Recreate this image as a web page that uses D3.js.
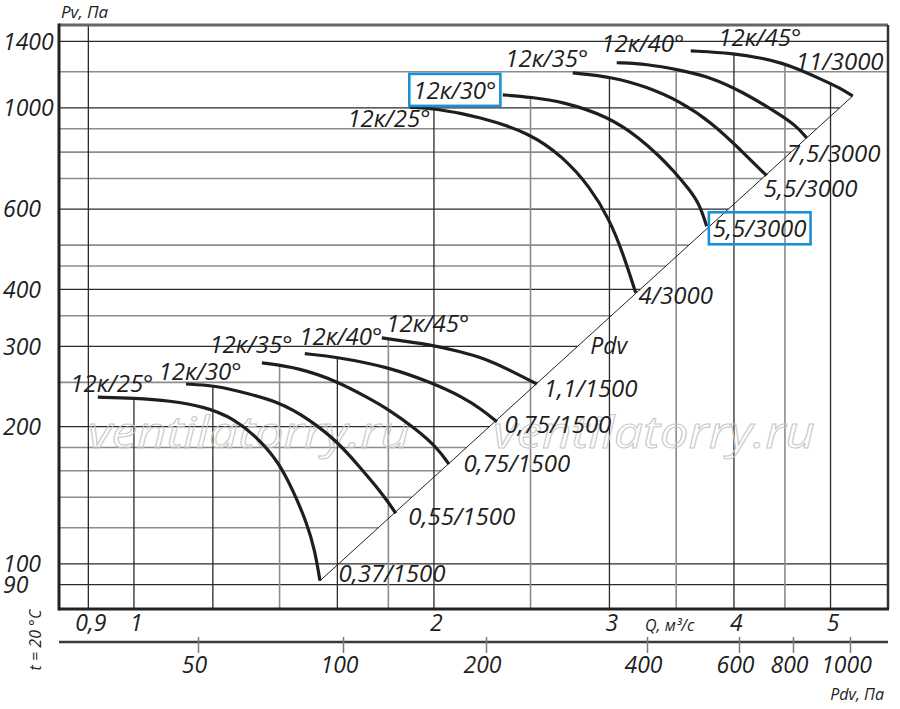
<!DOCTYPE html>
<html>
<head>
<meta charset="utf-8">
<script src="https://cdn.jsdelivr.net/npm/d3@7"></script>
<style>
  body { margin: 0; background: #fff; }
  svg { display: block; }
  text { font-family: "Open Sans", "Noto Sans", sans-serif; font-style: italic; fill: #1e1e1e; }
</style>
</head>
<body>
<div id="chart"></div>
<script>
// grid lines and tick values
var gridQ = [0.9, 1, 1.2, 1.4, 1.6, 1.8, 2, 2.5, 3, 3.5, 4, 4.5, 5];
var darkQ = [0.9, 1, 1.2, 1.6, 2, 3, 4, 5];
var gridPv = [90, 100, 120, 140, 160, 180, 200, 250, 300, 350, 400, 450, 500, 600, 700, 800, 900, 1000, 1200, 1400];
var tickPv = [90, 100, 200, 300, 400, 600, 1000, 1400];
var tickQ = [0.9, 1, 2, 3, 4, 5];
var tickPdv = [50, 100, 200, 400, 600, 800, 1000];

// Pdv line ends (Q, Pv)
var pdvQ = [1.537, 5.263];
var pdvPv = [91.8, 1062];

var angles = ['12к/25°', '12к/30°', '12к/35°', '12к/40°', '12к/45°'];
var motors3000 = ['4/3000', '5,5/3000', '5,5/3000', '7,5/3000', '11/3000'];
var motors1500 = ['0,37/1500', '0,55/1500', '0,75/1500', '0,75/1500', '1,1/1500'];

// [Q m3/s, Pv Pa], 3000 rpm
var curves3000 = [
    [[1.892, 1003], [2.000, 998], [2.223, 957], [2.496, 881], [2.693, 782], [2.867, 672], [3.002, 568], [3.094, 481], [3.188, 393]],
    [[2.345, 1068], [2.502, 1056], [2.693, 1032], [2.995, 957], [3.218, 858], [3.370, 782], [3.472, 731], [3.612, 661], [3.696, 613], [3.756, 550]],
    [[2.756, 1193], [3.023, 1169], [3.270, 1112], [3.528, 1035], [3.808, 925], [4.054, 812], [4.314, 710]],
    [[3.051, 1256], [3.270, 1249], [3.528, 1211], [3.782, 1170], [4.082, 1084], [4.405, 980], [4.624, 913], [4.732, 859]],
    [[3.620, 1334], [3.990, 1318], [4.275, 1285], [4.477, 1252], [4.624, 1220], [4.911, 1152], [5.107, 1106], [5.263, 1062]]
];
// 1500 rpm
var curves1500 = [
    [[0.920, 232], [1.000, 231], [1.087, 228], [1.178, 221], [1.257, 209], [1.338, 187], [1.398, 166.5], [1.444, 145], [1.491, 123], [1.519, 107], [1.537, 91.8]],
    [[1.128, 248], [1.200, 246], [1.257, 241], [1.398, 227], [1.501, 207], [1.602, 185], [1.685, 163], [1.752, 147.5], [1.802, 136], [1.831, 129]],
    [[1.344, 276], [1.467, 269], [1.602, 251], [1.713, 232], [1.802, 218], [1.922, 197], [2.014, 180], [2.070, 165.5]],
    [[1.484, 289], [1.602, 284], [1.802, 270], [1.995, 249], [2.138, 232], [2.234, 218], [2.313, 205]],
    [[1.773, 313], [1.995, 302], [2.123, 292], [2.239, 283], [2.383, 266], [2.536, 248]]
];

var W = 900, H = 709;
var plotL = 59, plotR = 888, plotT = 25, plotB = 609;
var axisY = 642;

var x = d3.scaleLog().domain([0.841, 5.71]).range([plotL, plotR]);
var y = d3.scaleLog().domain([79.6, 1520]).range([plotB, plotT]);
// the printed Pdv scale is not evenly logarithmic, so piecewise
var pdv = d3.scaleLog().domain(tickPdv).range([198, 343, 486, 647, 739, 793, 850]);

var loc = d3.formatLocale({decimal: ',', thousands: '', grouping: [3], currency: ['', '']});
var fmt = loc.format('~g');

var svg = d3.select('#chart').append('svg')
    .attr('width', W)
    .attr('height', H);
svg.append('rect').attr('width', W).attr('height', H).attr('fill', '#fff');

// Q on the Pdv line for a given Pv (straight in log-log)
function pdvLineQ(p) {
    var t = (Math.log(p) - Math.log(pdvPv[0])) / (Math.log(pdvPv[1]) - Math.log(pdvPv[0]));
    return Math.exp(Math.log(pdvQ[0]) + t * (Math.log(pdvQ[1]) - Math.log(pdvQ[0])));
}

var allCurves = curves3000.concat(curves1500);
// highest curve above a given Q, vertical grid starts there
function topAt(q) {
    var best = null;
    allCurves.forEach(function (c) {
        for (var i = 0; i < c.length - 1; i++) {
            if (q >= c[i][0] && q <= c[i + 1][0]) {
                var t = (Math.log(q) - Math.log(c[i][0])) / (Math.log(c[i + 1][0]) - Math.log(c[i][0]));
                var p = Math.exp(Math.log(c[i][1]) + t * (Math.log(c[i + 1][1]) - Math.log(c[i][1])));
                if (best === null || p > best) best = p;
            }
        }
    });
    return best;
}

var grid = svg.append('g');
grid.selectAll('.hgrid')
    .data(gridPv)
    .enter()
    .append('line')
        .attr('x1', plotL)
        .attr('x2', d => (d <= 100 || d > pdvPv[1]) ? plotR : x(pdvLineQ(d)))
        .attr('y1', d => y(d))
        .attr('y2', d => y(d))
        .attr('stroke', d => tickPv.indexOf(d) >= 0 ? '#2a2a2a' : '#8c8c8c')
        .attr('stroke-width', d => tickPv.indexOf(d) >= 0 ? 1.3 : 1.6);

grid.selectAll('.vgrid')
    .data(gridQ)
    .enter()
    .append('line')
        .attr('x1', d => x(d))
        .attr('x2', d => x(d))
        .attr('y1', d => { var p = topAt(d); return p === null ? plotT : y(p); })
        .attr('y2', plotB)
        .attr('stroke', d => darkQ.indexOf(d) >= 0 ? '#2a2a2a' : '#8c8c8c')
        .attr('stroke-width', d => darkQ.indexOf(d) >= 0 ? 1.3 : 1.6);

// watermark
[88, 493].forEach(function (wx) {
    svg.append('text')
        .attr('x', wx)
        .attr('y', 448)
        .attr('font-size', 44)
        .attr('textLength', 322)
        .attr('lengthAdjust', 'spacingAndGlyphs')
        .style('fill', 'none')
        .style('stroke', '#c8c8c8')
        .style('stroke-width', 1)
        .text('ventilatorry.ru');
});

// Pdv line
svg.append('path')
    .datum(pdvQ.map((q, i) => [q, pdvPv[i]]))
    .attr('d', d3.line().x(d => x(d[0])).y(d => y(d[1])))
    .attr('fill', 'none')
    .attr('stroke', '#222')
    .attr('stroke-width', 1);

var line = d3.line()
    .x(d => x(d[0]))
    .y(d => y(d[1]))
    .curve(d3.curveBasis);

svg.selectAll('.curve')
    .data(allCurves)
    .enter()
    .append('path')
        .attr('d', line)
        .attr('fill', 'none')
        .attr('stroke', '#1e1e1e')
        .attr('stroke-width', 3.2);

// frame
svg.append('line').attr('x1', plotL).attr('x2', plotR).attr('y1', plotT).attr('y2', plotT)
    .attr('stroke', '#666').attr('stroke-width', 3);
svg.append('line').attr('x1', plotR).attr('x2', plotR).attr('y1', plotT).attr('y2', plotB)
    .attr('stroke', '#333').attr('stroke-width', 2.5);
svg.append('line').attr('x1', plotL).attr('x2', plotL).attr('y1', plotT - 1.5).attr('y2', plotB + 1.5)
    .attr('stroke', '#222').attr('stroke-width', 3);
svg.append('line').attr('x1', plotL).attr('x2', plotR + 1).attr('y1', plotB).attr('y2', plotB)
    .attr('stroke', '#222').attr('stroke-width', 3);

// label offsets from curve start / end, text centred
var startOff3000 = [[-21, 20], [-48, 4], [-26, -6], [26, -11], [69, -5]];
var endOff3000 = [[40, 11], [53, 11], [44, 21], [27, 24], [-13, -26]];
var startOff1500 = [[14, -5], [14, -4], [-11, -10], [36, -9], [46, -6]];
var endOff1500 = [[72, 1], [66, 12], [68, 8], [61, 11], [54, 13]];

var labels = svg.append('g').attr('font-size', 24).attr('text-anchor', 'middle');
var boxed = [];

function curveLabels(curves, motors, startOff, endOff, boxIdx) {
    curves.forEach(function (c, i) {
        var s = c[0], e = c[c.length - 1];
        var t1 = labels.append('text')
            .attr('x', x(s[0]) + startOff[i][0])
            .attr('y', y(s[1]) + startOff[i][1])
            .text(angles[i]);
        var t2 = labels.append('text')
            .attr('x', x(e[0]) + endOff[i][0])
            .attr('y', y(e[1]) + endOff[i][1])
            .text(motors[i]);
        if (i === boxIdx) { boxed.push(t1, t2); }
    });
}
curveLabels(curves3000, motors3000, startOff3000, endOff3000, 1);
curveLabels(curves1500, motors1500, startOff1500, endOff1500, -1);

boxed.forEach(function (t) {
    var b = t.node().getBBox();
    svg.append('rect')
        .attr('x', b.x - 4)
        .attr('y', b.y + 1)
        .attr('width', b.width + 8)
        .attr('height', b.height - 1)
        .attr('fill', 'none')
        .attr('stroke', '#1b8fd8')
        .attr('stroke-width', 2.6);
});

labels.append('text')
    .attr('x', x(pdvLineQ(300)) + 31)
    .attr('y', y(300) + 8)
    .attr('font-size', 23)
    .text('Pdv');

// Pv axis, labels left aligned
var gy = svg.append('g')
    .attr('transform', 'translate(3,0)')
    .call(d3.axisRight(y).tickValues(tickPv).tickSize(0).tickPadding(0).tickFormat(fmt));
gy.select('.domain').remove();
gy.selectAll('text').attr('font-size', 23).attr('dy', '0.34em');

// Q axis
var gx = svg.append('g')
    .attr('transform', `translate(0,${plotB})`)
    .call(d3.axisBottom(x).tickValues(tickQ).tickSize(0).tickPadding(6).tickFormat(fmt));
gx.select('.domain').remove();
gx.selectAll('text').attr('font-size', 23).attr('dx', 2);

// Pdv axis
svg.append('line')
    .attr('x1', plotL).attr('x2', plotR)
    .attr('y1', axisY).attr('y2', axisY)
    .attr('stroke', '#3a3a3a').attr('stroke-width', 2.4);
var gp = svg.append('g')
    .attr('transform', `translate(0,${axisY})`)
    .call(d3.axisBottom(pdv).tickValues(tickPdv).tickSize(11).tickPadding(4).tickFormat(fmt));
gp.select('.domain').remove();
gp.selectAll('.tick line').attr('y1', -5).attr('stroke', '#7a7a7a').attr('stroke-width', 1.5);
gp.selectAll('text').attr('font-size', 23).attr('dx', -4);

// axis titles
svg.append('text').attr('x', 61).attr('y', 18).attr('font-size', 17).text('Pv, Па');
svg.append('text').attr('x', 645).attr('y', 631).attr('font-size', 16).text('Q, м³/с');
svg.append('text').attr('x', 884).attr('y', 700).attr('font-size', 16).attr('text-anchor', 'end').text('Pdv, Па');
svg.append('text')
    .attr('transform', 'translate(41,640) rotate(-90)')
    .attr('font-size', 16)
    .attr('text-anchor', 'middle')
    .text('t = 20 °C');
</script>
</body>
</html>
